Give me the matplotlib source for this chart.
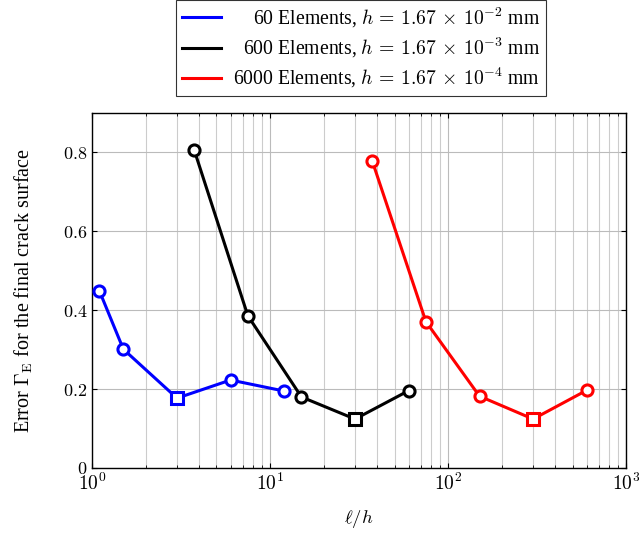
import numpy as np
import matplotlib.pyplot as plt

plt.rcParams['font.family'] = 'serif'
plt.rcParams['font.serif'] = ['Liberation Serif', 'DejaVu Serif']
plt.rcParams['mathtext.fontset'] = 'cm'

# Error of the final crack surface vs. length scale ratio l/h
ratio_60 = [1.1, 1.5, 3, 6, 12]
err_60 = [0.449, 0.301, 0.177, 0.223, 0.195]

ratio_600 = [3.75, 7.5, 15, 30, 60]
err_600 = [0.806, 0.386, 0.180, 0.124, 0.196]

ratio_6000 = [37.5, 75, 150, 300, 600]
err_6000 = [0.778, 0.371, 0.182, 0.124, 0.197]

labels = [r'60 Elements, $h\,=\,1.67\,\times\,10^{-2}$ mm',
          r'600 Elements, $h\,=\,1.67\,\times\,10^{-3}$ mm',
          r'6000 Elements, $h\,=\,1.67\,\times\,10^{-4}$ mm']

fig = plt.figure(figsize=(6.39, 5.33), dpi=100)
ax = fig.add_axes([0.144, 0.122, 0.836, 0.666])

handles = []
for x, y, c, lab in [(ratio_60, err_60, 'blue', labels[0]),
                     (ratio_600, err_600, 'black', labels[1]),
                     (ratio_6000, err_6000, 'red', labels[2])]:
    x = np.array(x, dtype=float)
    y = np.array(y)
    imin = np.argmin(y)
    h, = ax.plot(x, y, '-', color=c, lw=2.2, label=lab, zorder=3)
    others = np.arange(len(y)) != imin
    ax.plot(x[others], y[others], 'o', mfc='white', mec=c, mew=2.2, ms=8, zorder=4)
    ax.plot(x[imin], y[imin], 's', mfc='white', mec=c, mew=2.2, ms=8, zorder=4)
    handles.append(h)

ax.set_xscale('log')
ax.set_xlim(1, 1000)
ax.set_ylim(0, 0.9)
ax.set_yticks([0, 0.2, 0.4, 0.6, 0.8])
ax.set_yticklabels([r'$0$', r'$0.2$', r'$0.4$', r'$0.6$', r'$0.8$'])
ax.set_xticks([1, 10, 100, 1000])
ax.set_xticklabels([r'$10^0$', r'$10^1$', r'$10^2$', r'$10^3$'])
ax.grid(True, which='major', color='#bbbbbb', lw=0.8)
ax.grid(True, which='minor', axis='x', color='#cccccc', lw=0.8)
ax.tick_params(which='both', direction='in', top=True, right=True, labelsize=13)
ax.tick_params(axis='x', labelsize=14)
ax.tick_params(which='minor', length=2)
for s in ax.spines.values():
    s.set_linewidth(1.0)

ax.set_xlabel(r'$\ell/h$', fontsize=13.5, labelpad=10)
ax.set_ylabel(r'Error $\Gamma_{\mathrm{E}}$ for the final crack surface', fontsize=14.5,
              labelpad=20)

leg = ax.legend(handles=handles, loc='lower center', bbox_to_anchor=(0.503, 1.048),
                fontsize=14.2, frameon=True, fancybox=False, edgecolor='black',
                handlelength=2.0, handletextpad=0.6, borderpad=0.3,
                labelspacing=0.3, borderaxespad=0)
leg.get_frame().set_linewidth(0.8)

# right-align the legend entries: push shorter labels right by their width deficit
fig.canvas.draw()
renderer = fig.canvas.get_renderer()
widths = [t.get_window_extent(renderer).width for t in leg.get_texts()]
wmax = max(widths)
for t, w in zip(leg.get_texts(), widths):
    t.set_position((wmax - w, 0))

fig.savefig('out.png', dpi=100)
